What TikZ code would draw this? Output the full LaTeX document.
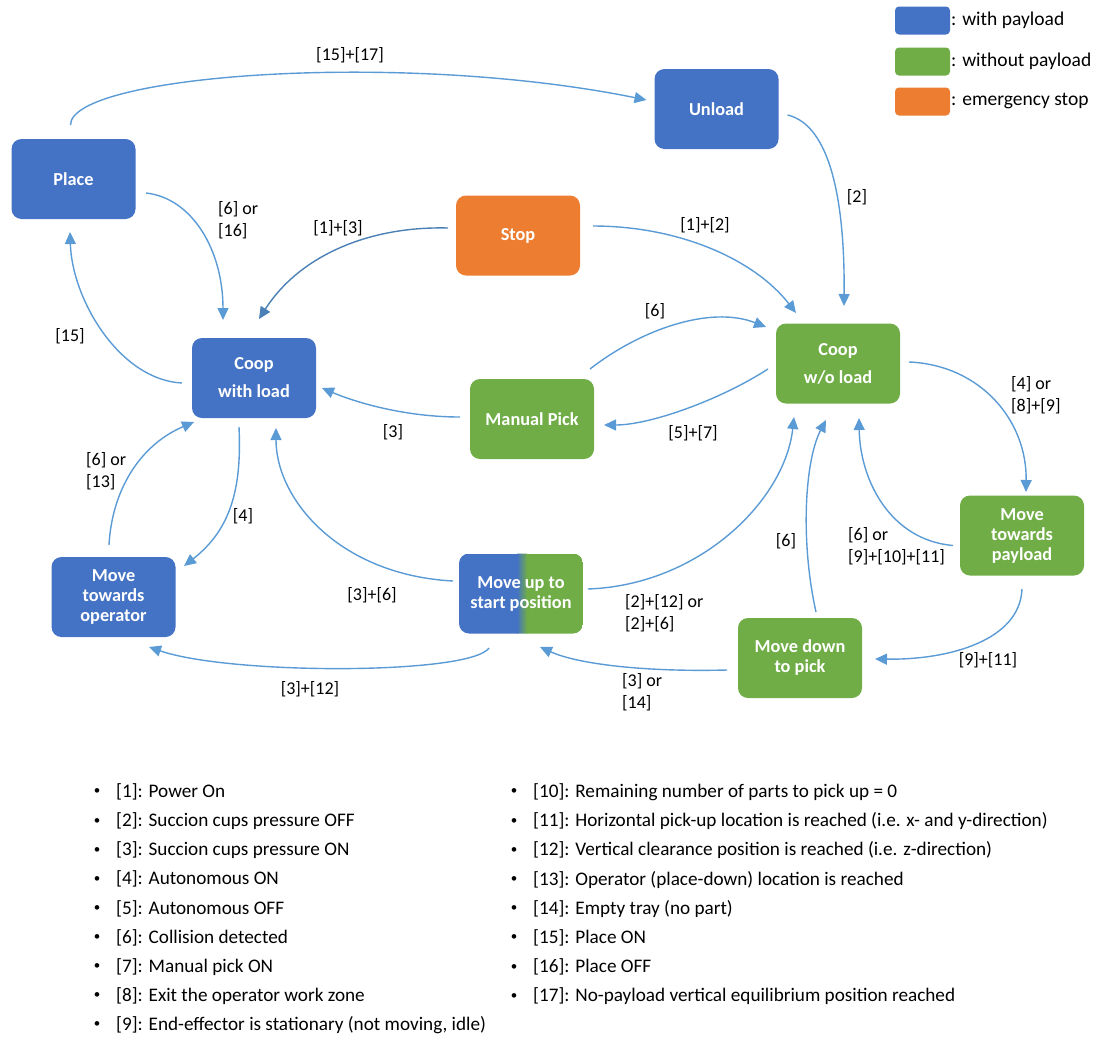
\documentclass[tikz,border=0pt]{standalone}
\usepackage{fontspec}
\setmainfont{Carlito}
\usetikzlibrary{arrows.meta,calc}
\definecolor{cblue}{HTML}{4472C4}
\definecolor{cgreen}{HTML}{70AD47}
\definecolor{corange}{HTML}{ED7D31}
\definecolor{eblue}{HTML}{5B9BD5}
\definecolor{edark}{HTML}{4A80B5}
\begin{document}
\begin{tikzpicture}[x=1pt,y=-1pt,
  state/.style={rounded corners=10pt, minimum width=124pt, minimum height=80pt, inner sep=0pt,
    text=white, align=center, font=\bfseries\fontsize{18.3}{20}\selectfont},
  flow/.style={draw=eblue, line width=1.4pt, -{Triangle[length=12pt,width=11pt]}},
  lab/.style={font=\fontsize{18}{22}\selectfont, align=left, inner sep=0pt, text=black},
  legbox/.style={rounded corners=4pt, minimum width=55pt, minimum height=28pt, inner sep=0pt},
  legtext/.style={font=\fontsize{19.5}{22}\selectfont, anchor=west, inner sep=0pt},
  item/.style={font=\fontsize{19.2}{22}\selectfont, anchor=west, inner sep=0pt},
  bul/.style={font=\fontsize{13}{15}\selectfont, inner sep=0pt}
]
\useasboundingbox (0,0) rectangle (1096,1039);

% ---------- states ----------
\node[state, fill=cblue] (place) at (73.5,179) {Place};
\node[state, fill=cblue] (unload) at (716.5,109) {Unload};
\node[state, fill=corange] (stop) at (518,235.5) {Stop};
\node[state, fill=cblue] (coopL) at (254,378) {Coop\\[8pt]with load};
\node[state, fill=cgreen] (manual) at (532,419) {Manual Pick};
\node[state, fill=cgreen] (coopW) at (838,363.5) {Coop\\[8pt]w/o load};
\node[state, fill=cblue] (moveop) at (113.5,597) {Move\\towards\\operator};
\node[state, path picture={
    \begin{scope}[sharp corners]
    \fill[cblue] (path picture bounding box.north west) rectangle ([xshift=59pt]path picture bounding box.south west);
    \fill[cgreen] ([xshift=67pt]path picture bounding box.north west) rectangle (path picture bounding box.south east);
    \shade[left color=cblue, right color=cgreen, shading angle=90] ([xshift=58pt]path picture bounding box.south west) rectangle ([xshift=68pt]path picture bounding box.north west);
    \end{scope}
  }] (moveup) at (521,593.5) {Move up to\\start position};
\node[state, fill=cgreen] (movepay) at (1022,535.5) {Move\\towards\\payload};
\node[state, fill=cgreen] (movedown) at (800,658) {Move down\\to pick};

% ---------- legend ----------
\node[legbox, fill=cblue] (lb) at (922.5,20.5) {};
\node[legbox, fill=cgreen] (lg) at (922.5,61.5) {};
\node[legbox, fill=corange] (lo) at (922.5,101.5) {};
\node[legtext] (lbt) at (951,20.5) {: with payload};
\node[legtext] (lgt) at (951,61.5) {: without payload};
\node[legtext] (lot) at (951,101.5) {: emergency stop};

% ---------- transitions ----------
\draw[flow] ([shift={(-3,-54)}]place.center) .. controls (70,75) and (400,50) .. ([shift={(-70,-9)}]unload.center);
\node[lab] (l1517) at (350,55) {[15]+[17]};

\draw[flow] ([shift={(72.5,14)}]place.center) .. controls (192,198) and (223,250) .. ([shift={(-31,-58)}]coopL.center);
\node[lab, anchor=west] (l616) at (218,220) {[6] or\\{}[16]};

\draw[flow, draw=edark] ([shift={(-70,-7.5)}]stop.center) .. controls (370,226) and (300,255) .. ([shift={(5,-59)}]coopL.center);
\node[lab] (l13) at (338,228) {[1]+[3]};

\draw[flow] ([shift={(75,-9.5)}]stop.center) .. controls (680,226) and (755,260) .. ([shift={(-42,-50.5)}]coopW.center);
\node[lab] (l12) at (705,225) {[1]+[2]};

\draw[flow] ([shift={(71,6)}]unload.center) .. controls (830,125) and (845,200) .. ([shift={(6,-57.5)}]coopW.center);
\node[lab] (l2) at (857,197) {[2]};

\draw[flow] ([shift={(58,-50)}]manual.center) .. controls (640,330) and (710,305) .. ([shift={(-72,-36.5)}]coopW.center);
\node[lab] (l6a) at (655,311) {[6]};

\draw[flow] ([shift={(-70,5.5)}]coopW.center) .. controls (720,400) and (650,425) .. ([shift={(72,6)}]manual.center);
\node[lab] (l57) at (693,433) {[5]+[7]};

\draw[flow] ([shift={(-72,-2)}]manual.center) .. controls (400,417) and (350,400) .. ([shift={(68,10)}]coopL.center);
\node[lab] (l3) at (393,432) {[3]};

\draw[flow] ([shift={(-72,5)}]coopL.center) .. controls (120,380) and (72,300) .. ([shift={(-3.5,53)}]place.center);
\node[lab] (l15) at (70,336) {[15]};

\draw[flow] ([shift={(-15,49)}]coopL.center) .. controls (242,490) and (230,530) .. ([shift={(70.5,-31)}]moveop.center);
\node[lab] (l4) at (243,516) {[4]};

\draw[flow] ([shift={(-4.5,-52)}]moveop.center) .. controls (112,490) and (140,445) .. ([shift={(-60,44)}]coopL.center);
\node[lab, anchor=west] (l613) at (86,471) {[6] or\\{}[13]};

\draw[flow] ([shift={(-68,-12.5)}]moveup.center) .. controls (340,575) and (276,500) .. ([shift={(22,50)}]coopL.center);
\node[lab] (l36) at (372,595) {[3]+[6]};

\draw[flow] ([shift={(-32,54.5)}]moveup.center) .. controls (470,675) and (230,675) .. ([shift={(35.5,50)}]moveop.center);
\node[lab] (l312) at (310,689) {[3]+[12]};

\draw[flow] ([shift={(67,-4.5)}]moveup.center) .. controls (700,585) and (785,500) .. ([shift={(-44,53.5)}]coopW.center);
\node[lab, anchor=west] (l212) at (625,613) {[2]+[12] or\\{}[2]+[6]};

\draw[flow] ([shift={(16,-46)}]movedown.center) .. controls (800,540) and (805,460) .. ([shift={(-12,56.5)}]coopW.center);
\node[lab] (l6b) at (786,541) {[6]};

\draw[flow] ([shift={(-69,10)}]movepay.center) .. controls (890,540) and (860,480) .. ([shift={(21,54.5)}]coopW.center);
\node[lab, anchor=west] (l691011) at (848,546) {[6] or\\{}[9]+[10]+[11]};

\draw[flow] ([shift={(71,-1.5)}]coopW.center) .. controls (980,365) and (1027,420) .. ([shift={(4,-43.5)}]movepay.center);
\node[lab, anchor=west] (l489) at (1011,395) {[4] or\\{}[8]+[9]};

\draw[flow] ([shift={(0,53.5)}]movepay.center) .. controls (1020,640) and (950,660) .. ([shift={(75,1)}]movedown.center);
\node[lab] (l911) at (988,660) {[9]+[11]};

\draw[flow] ([shift={(-73,12)}]movedown.center) .. controls (650,672) and (580,665) .. ([shift={(19,53.5)}]moveup.center);
\node[lab, anchor=west] (l314) at (622,692) {[3] or\\{}[14]};

% ---------- condition list ----------
\foreach \t [count=\i from 0] in {
  {[1]: Power On},
  {[2]: Succion cups pressure OFF},
  {[3]: Succion cups pressure ON},
  {[4]: Autonomous ON},
  {[5]: Autonomous OFF},
  {[6]: Collision detected},
  {[7]: Manual pick ON},
  {[8]: Exit the operator work zone},
  {[9]: End-effector is stationary (not moving, idle)}} {
  \node[bul] (bl\i) at (97,792+29.1*\i) {\textbullet};
  \node[item] (il\i) at (116,792+29.1*\i) {\t};
}
\foreach \t [count=\i from 0] in {
  {[10]: Remaining number of parts to pick up = 0},
  {[11]: Horizontal pick-up location is reached (i.e. x- and y-direction)},
  {[12]: Vertical clearance position is reached (i.e. z-direction)},
  {[13]: Operator (place-down) location is reached},
  {[14]: Empty tray (no part)},
  {[15]: Place ON},
  {[16]: Place OFF},
  {[17]: No-payload vertical equilibrium position reached}} {
  \node[bul] (br\i) at (514,792+29.2*\i) {\textbullet};
  \node[item] (ir\i) at (533,792+29.2*\i) {\t};
}
\end{tikzpicture}
\end{document}
